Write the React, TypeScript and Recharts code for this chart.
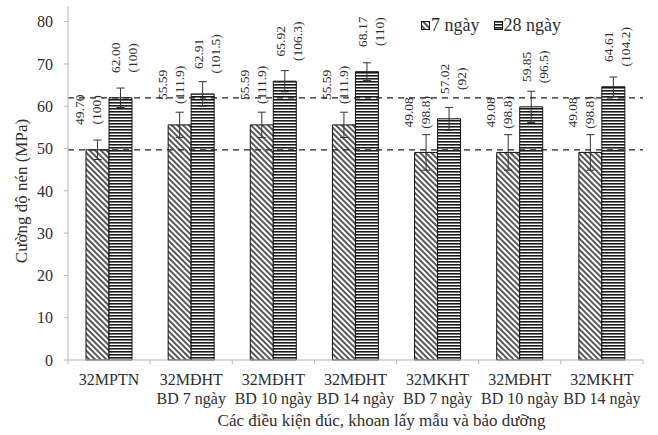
import React from 'react';
import {
  BarChart,
  Bar,
  XAxis,
  YAxis,
  ErrorBar,
  LabelList,
  ReferenceLine,
  Legend,
  Label,
} from 'recharts';

// Compressive strength of cores, 7 and 28 days

const categoryTop = ['32MPTN', '32MĐHT', '32MĐHT', '32MĐHT', '32MKHT', '32MĐHT', '32MKHT'];
const categoryBottom = ['', 'BD 7 ngày', 'BD 10 ngày', 'BD 14 ngày', 'BD 7 ngày', 'BD 10 ngày', 'BD 14 ngày'];

const strength7 = [49.7, 55.59, 55.59, 55.59, 49.08, 49.08, 49.08];
const ratio7 = ['100', '111.9', '111.9', '111.9', '98.8', '98.8', '98.8'];
const error7 = [2.3, 3.0, 3.0, 3.0, 4.2, 4.2, 4.2];

const strength28 = [62.0, 62.91, 65.92, 68.17, 57.02, 59.85, 64.61];
const ratio28 = ['100', '101.5', '106.3', '110', '92', '96.5', '104.2'];
const error28 = [2.3, 2.9, 2.5, 2.1, 2.7, 3.7, 2.3];

const referenceValues = [62.0, 49.7];
const yTicks = [0, 10, 20, 30, 40, 50, 60, 70, 80];

const FONT = "'Liberation Serif', 'Times New Roman', serif";
const TEXT = '#2e2e2e';
const AXIS = '#b5b5b5';

const chartData = categoryTop.map((_, i) => ({
  key: String(i),
  v7: strength7[i],
  e7: error7[i],
  l7: `${strength7[i].toFixed(2)}|(${ratio7[i]})`,
  v28: strength28[i],
  e28: error28[i],
  l28: `${strength28[i].toFixed(2)}|(${ratio28[i]})`,
}));

// rotated two-line value label above each bar
function makeBarLabel(dx: number) {
  return (props: any) => {
    const vb = props.viewBox ?? props;
    const x = Number(vb.x ?? props.x);
    const y = Number(vb.y ?? props.y);
    const w = Number(vb.width ?? props.width);
    const [l1, l2] = String(props.value ?? '').split('|');
    const cx = x + w / 2 + dx;
    const cy = y - 40;
    return (
      <g fill={TEXT} fontSize={13.5} fontFamily={FONT}>
        <text x={cx - 4} y={cy} textAnchor="middle" transform={`rotate(-90 ${cx - 4} ${cy})`}>
          {l1}
        </text>
        <text x={cx + 13} y={cy} textAnchor="middle" transform={`rotate(-90 ${cx + 13} ${cy})`}>
          {l2}
        </text>
      </g>
    );
  };
}

function CategoryTick(props: any) {
  const { x, y, index, visibleTicksCount, width } = props;
  const count = visibleTicksCount || categoryTop.length;
  const bw = (width || 575) / count;
  return (
    <g>
      <line x1={x - bw / 2} x2={x - bw / 2} y1={y} y2={y + 4} stroke={AXIS} />
      {index === count - 1 && <line x1={x + bw / 2} x2={x + bw / 2} y1={y} y2={y + 4} stroke={AXIS} />}
      <text x={x} y={y + 25} textAnchor="middle" fill={TEXT} fontSize={16} fontFamily={FONT}>
        <tspan x={x}>{categoryTop[index]}</tspan>
        {categoryBottom[index] && (
          <tspan x={x} dy={19}>
            {categoryBottom[index]}
          </tspan>
        )}
      </text>
    </g>
  );
}

function LegendIcon({ fill }: { fill: string }) {
  return (
    <svg width={9} height={9} style={{ display: 'block' }}>
      <rect x={0.5} y={0.5} width={8} height={8} fill={fill} stroke="#111" strokeWidth={1} />
    </svg>
  );
}

function LegendContent() {
  return (
    <div style={{ display: 'flex', alignItems: 'center', fontFamily: FONT, fontSize: 18, color: TEXT }}>
      <LegendIcon fill="url(#hatch7)" />
      <span style={{ marginLeft: 1, marginRight: 14 }}>7 ngày</span>
      <LegendIcon fill="url(#hatch28)" />
      <span style={{ marginLeft: 1 }}>28 ngày</span>
    </div>
  );
}

export default function App() {
  return (
    <div style={{ position: 'absolute', left: 0, top: 0, width: 658, height: 435, background: '#fff' }}>
      <BarChart
        width={658}
        height={435}
        data={chartData}
        margin={{ top: 6, right: 15, bottom: 0, left: 0 }}
        barSize={23}
        barGap={0}
      >
        <defs>
          <pattern id="hatch7" patternUnits="userSpaceOnUse" width={4} height={4} patternTransform="rotate(-45)">
            <rect x={0} y={0} width={4} height={4} fill="#fff" />
            <line x1={1} y1={0} x2={1} y2={4} stroke="#111" strokeWidth={1.4} />
          </pattern>
          <pattern id="hatch28" patternUnits="userSpaceOnUse" width={4} height={3}>
            <rect x={0} y={0} width={4} height={3} fill="#fff" />
            <rect x={0} y={0} width={4} height={1.6} fill="#1a1a1a" />
          </pattern>
        </defs>

        <XAxis
          dataKey="key"
          interval={0}
          tickSize={0}
          tickMargin={0}
          tickLine={false}
          axisLine={{ stroke: AXIS }}
          height={75}
          tick={<CategoryTick />}
        >
          <Label
            content={(p: any) => {
              const vb = p.viewBox;
              return (
                <text
                  x={vb.x + vb.width / 2 + 26}
                  y={vb.y + 66}
                  textAnchor="middle"
                  fill={TEXT}
                  fontSize={17}
                  fontFamily={FONT}
                >
                  Các điều kiện đúc, khoan lấy mẫu và bảo dưỡng
                </text>
              );
            }}
          />
        </XAxis>
        <XAxis xAxisId="top" dataKey="key" orientation="top" height={0} tick={false} tickLine={false} axisLine={{ stroke: AXIS }} />

        <YAxis
          type="number"
          domain={[0, 83.7]}
          ticks={yTicks}
          interval={0}
          width={68}
          tickSize={4}
          tickMargin={11}
          tickLine={{ stroke: AXIS }}
          axisLine={{ stroke: AXIS }}
          tick={{ fill: TEXT, fontSize: 16, fontFamily: FONT }}
        >
          <Label
            content={(p: any) => {
              const vb = p.viewBox;
              const cx = vb.x + 27;
              const cy = vb.y + vb.height / 2 + 8;
              return (
                <text
                  x={cx}
                  y={cy}
                  textAnchor="middle"
                  transform={`rotate(-90 ${cx} ${cy})`}
                  fill={TEXT}
                  fontSize={17}
                  fontFamily={FONT}
                >
                  Cường độ nén (MPa)
                </text>
              );
            }}
          />
        </YAxis>
        <YAxis yAxisId="right" orientation="right" type="number" domain={[0, 1]} width={0} tick={false} tickLine={false} axisLine={{ stroke: AXIS }} />

        <Legend
          layout="horizontal"
          verticalAlign="middle"
          align="center"
          content={<LegendContent />}
          wrapperStyle={{ position: 'absolute', top: 15, left: 421, width: 180, height: 22 }}
        />

        <Bar dataKey="v7" name="7 ngày" fill="url(#hatch7)" stroke="#111" strokeWidth={1} isAnimationActive={false}>
          <ErrorBar dataKey="e7" width={4} stroke="#333" strokeWidth={1} isAnimationActive={false} />
          <LabelList dataKey="l7" content={makeBarLabel(-9)} />
        </Bar>
        <Bar dataKey="v28" name="28 ngày" fill="url(#hatch28)" stroke="#111" strokeWidth={1} isAnimationActive={false}>
          <ErrorBar dataKey="e28" width={4} stroke="#333" strokeWidth={1} isAnimationActive={false} />
          <LabelList dataKey="l28" content={makeBarLabel(4)} />
        </Bar>

        {referenceValues.map((v) => (
          <ReferenceLine key={v} y={v} stroke="#222" strokeWidth={1.3} strokeDasharray="6 5" ifOverflow="extendDomain" />
        ))}
      </BarChart>
    </div>
  );
}
